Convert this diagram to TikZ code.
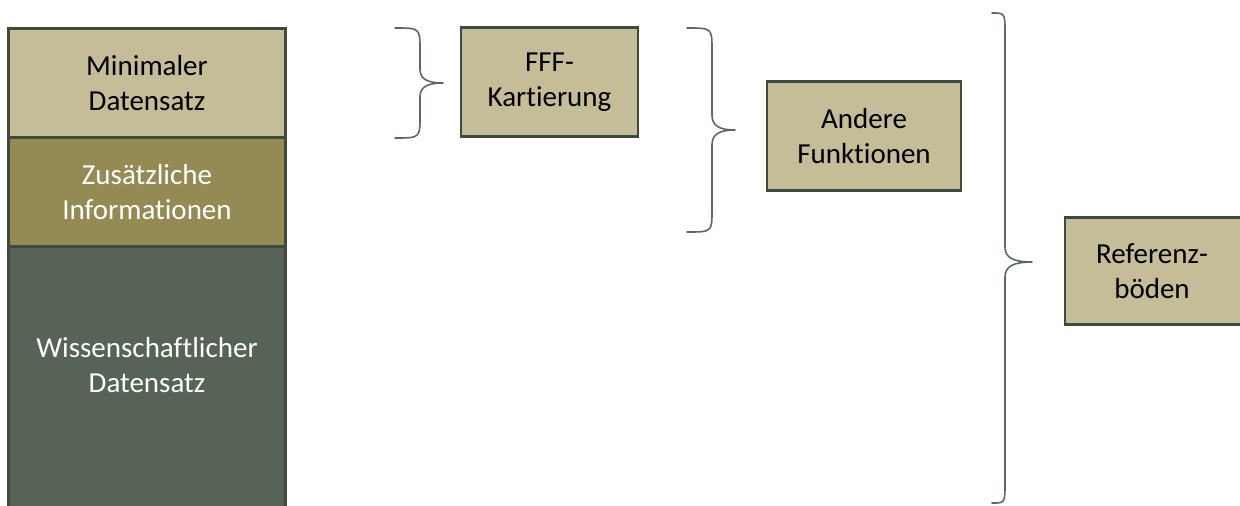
\documentclass[tikz,border=0pt]{standalone}
\usepackage{fontspec}
\setmainfont[Ligatures={NoCommon}]{Carlito}
\definecolor{tanfill}{HTML}{C4BD97}
\definecolor{olivefill}{HTML}{948A54}
\definecolor{greenfill}{HTML}{576356}
\definecolor{boxline}{HTML}{3D4A3D}
\definecolor{braceline}{HTML}{5B6B5B}
\tikzset{
  block/.style={draw=boxline, line width=2.2pt, inner sep=0pt, outer sep=0pt,
    align=center, font=\fontsize{29}{35}\selectfont},
  lightblock/.style={block, fill=tanfill, text=black},
  brace/.style={draw=braceline, line width=1.6pt, line cap=round, line join=round},
}
% curly brace opening to the right:
% left end x, spine x, tip x, top y, tip y, bottom y, end radius, tip radius
\newcommand{\groupbrace}[8]{%
  \draw[brace] (#1,#4) .. controls (#2,#4) and (#2,#4) .. (#2,#4+#7)
    -- (#2,#5-#8) .. controls (#2,#5-0.3*#8) and (#2+0.3*#3-0.3*#2,#5) .. (#3,#5)
    .. controls (#2+0.3*#3-0.3*#2,#5) and (#2,#5+0.3*#8) .. (#2,#5+#8)
    -- (#2,#6-#7) .. controls (#2,#6) and (#2,#6) .. (#1,#6);}
\begin{document}
\begin{tikzpicture}[x=1pt, y=-1pt]
  \useasboundingbox (0,0) rectangle (1240,506);
  \clip (0,0) rectangle (1240,506);

  % stacked data levels
  \node[lightblock, minimum width=277pt, minimum height=109pt, anchor=north west]
    (min) at (8.5,28.5) {Minimaler\\Datensatz};
  \node[block, fill=olivefill, text=white, minimum width=277pt, minimum height=109pt, anchor=north west]
    (add) at (8.5,137.5) {Zusätzliche\\Informationen};
  \node[block, fill=greenfill, text=white, minimum width=277pt, minimum height=280pt, anchor=north west]
    (sci) at (8.5,246.5) {};
  \node[block, draw=none, text=white] (scitext) at (147,365) {Wissenschaftlicher\\Datensatz};

  % use cases
  \node[lightblock, minimum width=177pt, minimum height=109pt, anchor=north west]
    (fff) at (461,27.5) {FFF-\\Kartierung};
  \node[lightblock, minimum width=194pt, minimum height=109pt, anchor=north west]
    (other) at (767,81.5) {Andere\\Funktionen};
  \node[lightblock, minimum width=190pt, minimum height=107pt, anchor=north west]
    (ref) at (1065,217.5) {};
  \node[block, draw=none] (reftext) at (1152,271) {Referenz-\\böden};

  % grouping braces
  \groupbrace{395}{420}{443}{28}{83}{138}{22}{14}
  \groupbrace{687}{712}{735}{28}{130}{232}{22}{15}
  \groupbrace{992}{1005}{1032}{13}{262}{503}{20}{15}
\end{tikzpicture}
\end{document}
